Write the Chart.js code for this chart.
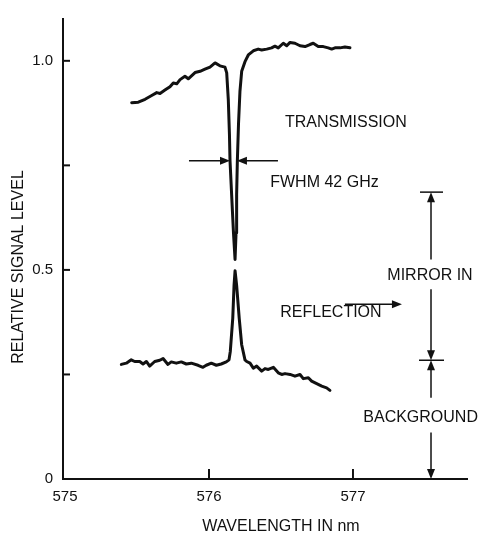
<!DOCTYPE html>
<html>
<head>
<meta charset="utf-8">
<script src="https://cdn.jsdelivr.net/npm/chart.js@4/dist/chart.umd.min.js"></script>
<style>
  html, body { margin: 0; background: #fff; }
</style>
</head>
<body>
<canvas id="graph" width="479" height="535"></canvas>
<script>
// transmission trace (wavelength nm, relative level)
const transX = [575.463, 575.509, 575.556, 575.602, 575.637, 575.660, 575.694, 575.729, 575.752, 575.776,
  575.799, 575.833, 575.856, 575.903, 575.938, 575.972, 576.007, 576.042, 576.076, 576.111,
  576.123, 576.134, 576.142, 576.146, 576.160, 576.170, 576.181, 576.188, 576.192, 576.197,
  576.205, 576.215, 576.227, 576.250, 576.273, 576.308, 576.342, 576.366, 576.401, 576.435,
  576.458, 576.481, 576.516, 576.540, 576.563, 576.597, 576.632, 576.667, 576.701, 576.724,
  576.759, 576.794, 576.828, 576.852, 576.875, 576.910, 576.944, 576.979]
const transY = [0.900, 0.901, 0.908, 0.917, 0.924, 0.922, 0.930, 0.938, 0.947, 0.945,
  0.955, 0.963, 0.957, 0.972, 0.975, 0.980, 0.985, 0.995, 0.988, 0.985,
  0.971, 0.908, 0.825, 0.761, 0.660, 0.589, 0.525, 0.589, 0.680, 0.761,
  0.849, 0.927, 0.975, 0.998, 1.014, 1.024, 1.028, 1.026, 1.028, 1.031,
  1.035, 1.031, 1.042, 1.036, 1.044, 1.042, 1.036, 1.034, 1.039, 1.042,
  1.034, 1.034, 1.031, 1.028, 1.031, 1.031, 1.033, 1.031]

// reflection trace
const reflX = [575.391, 575.426, 575.460, 575.484, 575.519, 575.542, 575.565, 575.588, 575.623, 575.658,
  575.681, 575.715, 575.738, 575.773, 575.808, 575.842, 575.877, 575.924, 575.958, 575.981,
  576.016, 576.051, 576.085, 576.120, 576.139, 576.148, 576.165, 576.174, 576.181, 576.192,
  576.210, 576.227, 576.250, 576.262, 576.285, 576.308, 576.331, 576.366, 576.389, 576.412,
  576.447, 576.481, 576.505, 576.528, 576.563, 576.597, 576.632, 576.655, 576.690, 576.713,
  576.748, 576.783, 576.817, 576.840]
const reflY = [0.274, 0.277, 0.285, 0.281, 0.281, 0.275, 0.281, 0.270, 0.281, 0.284,
  0.288, 0.274, 0.280, 0.277, 0.280, 0.275, 0.277, 0.272, 0.267, 0.272,
  0.277, 0.272, 0.275, 0.280, 0.285, 0.305, 0.384, 0.463, 0.498, 0.463,
  0.384, 0.321, 0.285, 0.281, 0.277, 0.265, 0.270, 0.258, 0.264, 0.262,
  0.267, 0.254, 0.250, 0.252, 0.250, 0.246, 0.250, 0.240, 0.242, 0.234,
  0.228, 0.222, 0.218, 0.212]

const xTicks = [575, 576, 577]
const xTickLabels = ['575', '576', '577']
const yTicks = [0, 0.25, 0.5, 0.75, 1.0]
const yTickLabels = ['0', '', '0.5', '', '1.0']

// annotation levels, in data units
const fwhmLevel = 0.761
const fwhmLeftArrow = [575.861, 576.146]
const fwhmRightArrow = [576.479, 576.194]
const barX = 577.542
const mirrorTop = 0.686
const mirrorBase = 0.284

const FAMILY = '"Liberation Sans", Arial, sans-serif'
const INK = '#111'

const toPoints = (xs, ys) => xs.map((x, i) => ({ x: x, y: ys[i] }))

function arrowHead(ctx, x, y, dir) {
  // dir: 'up' | 'down' | 'left' | 'right', tip at (x, y)
  const len = 10, half = 4
  ctx.beginPath()
  ctx.moveTo(x, y)
  if (dir === 'up') { ctx.lineTo(x - half, y + len); ctx.lineTo(x + half, y + len) }
  if (dir === 'down') { ctx.lineTo(x - half, y - len); ctx.lineTo(x + half, y - len) }
  if (dir === 'left') { ctx.lineTo(x + len, y - half); ctx.lineTo(x + len, y + half) }
  if (dir === 'right') { ctx.lineTo(x - len, y - half); ctx.lineTo(x - len, y + half) }
  ctx.closePath()
  ctx.fill()
}

function line(ctx, x1, y1, x2, y2) {
  ctx.beginPath()
  ctx.moveTo(x1, y1)
  ctx.lineTo(x2, y2)
  ctx.stroke()
}

// inward tick marks, axis titles and the figure's arrows and notes
const annotations = {
  id: 'annotations',
  afterDraw(chart) {
    const { ctx, scales: { x, y } } = chart
    ctx.save()
    ctx.strokeStyle = INK
    ctx.fillStyle = INK

    // ticks pointing into the plot
    ctx.lineWidth = 2
    xTicks.forEach((v) => {
      if (v <= x.min + 0.05) return
      const px = x.getPixelForValue(v)
      line(ctx, px, y.bottom, px, y.bottom - 10)
    })
    yTicks.forEach((v) => {
      if (v === y.min) return
      const py = y.getPixelForValue(v)
      line(ctx, x.left, py, x.left + 7, py)
    })

    // axis titles
    ctx.font = '16px ' + FAMILY
    ctx.textAlign = 'center'
    ctx.textBaseline = 'middle'
    ctx.fillText('WAVELENGTH IN nm', 281, 527)
    ctx.save()
    ctx.translate(19, 267)
    ctx.rotate(-Math.PI / 2)
    ctx.fillText('RELATIVE SIGNAL LEVEL', 0, 0)
    ctx.restore()

    // FWHM arrows
    ctx.lineWidth = 1.5
    const fy = y.getPixelForValue(fwhmLevel)
    const l1 = x.getPixelForValue(fwhmLeftArrow[0]), l2 = x.getPixelForValue(fwhmLeftArrow[1])
    line(ctx, l1, fy, l2 - 8, fy)
    arrowHead(ctx, l2, fy, 'right')
    const r1 = x.getPixelForValue(fwhmRightArrow[0]), r2 = x.getPixelForValue(fwhmRightArrow[1])
    line(ctx, r1, fy, r2 + 8, fy)
    arrowHead(ctx, r2, fy, 'left')

    // mirror in / background bar
    const bx = x.getPixelForValue(barX)
    const yTop = y.getPixelForValue(mirrorTop)
    const yMid = y.getPixelForValue(mirrorBase)
    const yZero = y.getPixelForValue(0)
    line(ctx, bx - 11, yTop, bx + 12, yTop)
    line(ctx, bx - 12, yMid, bx + 13, yMid)
    line(ctx, bx, y.getPixelForValue(0.525), bx, yTop + 8)
    arrowHead(ctx, bx, yTop, 'up')
    line(ctx, bx, y.getPixelForValue(0.454), bx, yMid - 8)
    arrowHead(ctx, bx, yMid, 'down')
    line(ctx, bx, y.getPixelForValue(0.194), bx, yMid + 8)
    arrowHead(ctx, bx, yMid, 'up')
    line(ctx, bx, y.getPixelForValue(0.111), bx, yZero - 8)
    arrowHead(ctx, bx, yZero, 'down')

    // reflection pointer
    const ry = y.getPixelForValue(0.418)
    const ra = x.getPixelForValue(576.944), rb = x.getPixelForValue(577.340)
    line(ctx, ra, ry, rb - 8, ry)
    arrowHead(ctx, rb, ry, 'right')

    // notes
    const note = (text, vx, vy) => ctx.fillText(text, x.getPixelForValue(vx), y.getPixelForValue(vy))
    note('TRANSMISSION', 576.951, 0.853)
    note('FWHM 42 GHz', 576.802, 0.708)
    note('MIRROR IN', 577.535, 0.487)
    note('REFLECTION', 576.847, 0.397)
    note('BACKGROUND', 577.470, 0.147)

    ctx.restore()
  },
}

const traceStyle = {
  borderColor: INK,
  borderWidth: 3,
  pointRadius: 0,
  tension: 0,
  fill: false,
  borderJoinStyle: 'round',
  borderCapStyle: 'round',
}

new Chart(document.getElementById('graph'), {
  type: 'line',
  data: {
    datasets: [
      { label: 'Transmission', data: toPoints(transX, transY), ...traceStyle },
      { label: 'Reflection', data: toPoints(reflX, reflY), ...traceStyle },
    ],
  },
  options: {
    responsive: false,
    animation: false,
    devicePixelRatio: 1,
    layout: { padding: { top: 13, right: 12, left: 0, bottom: 0 } },
    plugins: { legend: { display: false }, tooltip: { enabled: false } },
    scales: {
      x: {
        type: 'linear',
        min: 574.986,
        max: 577.792,
        afterFit: (scale) => { scale.height = 56 },
        afterBuildTicks: (scale) => { scale.ticks = xTicks.map((v) => ({ value: v })) },
        grid: { display: false, drawTicks: false },
        border: { display: true, color: INK, width: 2 },
        ticks: {
          color: INK,
          font: { family: FAMILY, size: 15 },
          padding: 9,
          maxRotation: 0,
          callback: (v) => xTickLabels[xTicks.indexOf(v)],
        },
      },
      y: {
        type: 'linear',
        min: 0,
        max: 1.1,
        afterFit: (scale) => { scale.width = 63 },
        afterBuildTicks: (scale) => { scale.ticks = yTicks.map((v) => ({ value: v })) },
        grid: { display: false, drawTicks: false },
        border: { display: true, color: INK, width: 2 },
        ticks: {
          color: INK,
          font: { family: FAMILY, size: 15 },
          padding: 10,
          callback: (v) => yTickLabels[yTicks.indexOf(v)],
        },
      },
    },
  },
  plugins: [annotations],
})
</script>
</body>
</html>
